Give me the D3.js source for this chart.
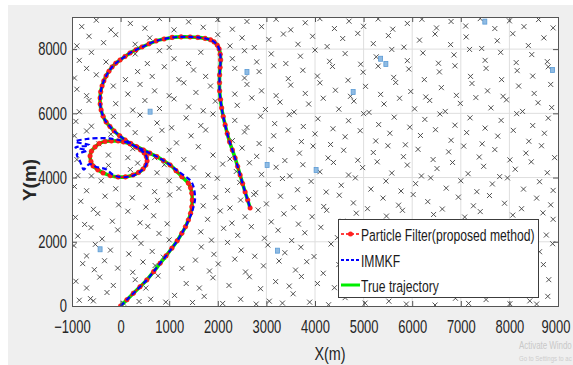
<!DOCTYPE html>
<html>
<head>
<meta charset="utf-8">
<script src="https://cdn.jsdelivr.net/npm/d3@7"></script>
<style>
  body { margin: 0; background: #fff; }
  text { font-family: "Liberation Sans", Arial, sans-serif; }
</style>
</head>
<body>
<svg id="chart" width="573" height="365"></svg>
<script>
const xTicks = [-1000, 0, 1000, 2000, 3000, 4000, 5000, 6000, 7000, 8000, 9000]
const yTicks = [0, 2000, 4000, 6000, 8000]
const legendLabels = ['Particle Filter(proposed method)', 'IMMKF', 'True trajectory']

// true target trajectory (m)
const trueTrajectory = [
  [0, 0], [130, 195], [263, 396], [400, 600], [539, 810], [680, 1070], [813, 1330], [935, 1560],
  [1054, 1797], [1165, 2030], [1260, 2265], [1335, 2470], [1395, 2679], [1440, 2885], [1465, 3093],
  [1475, 3300], [1465, 3511], [1440, 3680], [1395, 3822], [1260, 4028], [1140, 4215], [1019, 4392],
  [880, 4530], [745, 4651], [600, 4760], [469, 4859], [330, 4960], [196, 5046], [60, 5110], [-51, 5140],
  [-190, 5140], [-319, 5124], [-440, 5060], [-525, 4953], [-600, 4820], [-628, 4673], [-610, 4500],
  [-566, 4361], [-470, 4240], [-360, 4143], [-210, 4060], [-51, 4018], [100, 4020], [257, 4081],
  [370, 4160], [463, 4268], [520, 4390], [545, 4517], [530, 4650], [484, 4766], [410, 4860], [319, 4953],
  [210, 5060], [93, 5171], [-20, 5300], [-134, 5451], [-220, 5590], [-298, 5732], [-360, 5910],
  [-401, 6105], [-420, 6290], [-422, 6479], [-410, 6670], [-381, 6853], [-345, 7010], [-298, 7165],
  [-240, 7310], [-175, 7445], [-100, 7560], [-10, 7663], [90, 7770], [195, 7881], [315, 7975],
  [442, 8068], [585, 8165], [731, 8255], [895, 8315], [1060, 8364], [1245, 8380], [1430, 8379],
  [1590, 8365], [1739, 8333], [1850, 8290], [1924, 8224], [1990, 8120], [2027, 8006], [2050, 7840],
  [2058, 7663], [2048, 7430], [2037, 7196], [2035, 6950], [2037, 6697], [2055, 6430], [2079, 6168],
  [2112, 5900], [2151, 5638], [2195, 5370], [2243, 5109], [2300, 4860], [2356, 4610], [2408, 4345],
  [2459, 4081], [2510, 3815], [2562, 3551], [2615, 3300], [2665, 3053]
]
// particle filter estimate sits on top of the truth
const pfEstimate = trueTrajectory
// IMMKF estimate, drifts around the small loop
const immkfEstimate = [
  [0, 0], [130, 195], [263, 396], [400, 600], [539, 810], [680, 1070], [813, 1330], [935, 1560],
  [1054, 1797], [1165, 2030], [1260, 2265], [1335, 2470], [1400, 2680], [1460, 2880], [1500, 3090],
  [1530, 3300], [1525, 3520], [1500, 3720], [1440, 3900], [1310, 4060], [1150, 4230], [1019, 4392],
  [880, 4530], [745, 4651], [600, 4760], [469, 4859], [330, 4950], [196, 5050], [40, 5140], [-150, 5200],
  [-400, 5230], [-700, 5200], [-930, 5120], [-640, 5010], [-930, 4940], [-700, 4840], [-900, 4720],
  [-850, 4560], [-800, 4380], [-760, 4250], [-640, 4420], [-500, 4330], [-300, 4260], [-150, 4080],
  [50, 4010], [257, 4060], [400, 4180], [500, 4330], [545, 4517], [530, 4650], [484, 4766], [410, 4860],
  [319, 4953], [210, 5060], [93, 5171], [-20, 5300], [-134, 5451], [-220, 5590], [-298, 5732],
  [-360, 5910], [-401, 6105], [-420, 6290], [-422, 6479], [-410, 6670], [-381, 6853], [-345, 7010],
  [-298, 7165], [-240, 7310], [-175, 7445], [-100, 7560], [-10, 7663], [90, 7770], [195, 7881],
  [315, 7975], [442, 8068], [585, 8165], [731, 8255], [895, 8315], [1060, 8364], [1245, 8380],
  [1430, 8379], [1590, 8365], [1739, 8333], [1850, 8290], [1924, 8224], [1990, 8120], [2027, 8006],
  [2050, 7840], [2058, 7663], [2048, 7430], [2037, 7196], [2035, 6950], [2037, 6697], [2055, 6430],
  [2079, 6168], [2112, 5900], [2151, 5638], [2195, 5370], [2243, 5109], [2300, 4860], [2356, 4610],
  [2408, 4345], [2459, 4081], [2510, 3815], [2562, 3551], [2615, 3300], [2665, 3053]
]
// sensor nodes (x markers)
const sensorNodes = [
  [-850, 180], [-620, 230], [-560, 160], [-280, 420], [60, 90], [380, 140], [620, 210], [930, 120], [1110, 330], [1480, 110], [1720, 300], [2100, 80], [2470, 210], [2790, 60], [3060, 150], [3330, 90], [3550, 380], [3890, 120], [4280, 40], [4620, 260], [5030, 90], [5520, 150], [5880, 60], [6470, 30], [6890, 240], [7160, 80], [7520, 200], [8010, 70], [8420, 160], [8560, 60], [8790, 300],
  [-920, 770], [-700, 560], [-430, 900], [-150, 640], [300, 820], [520, 560], [770, 940], [1350, 700], [1620, 560], [1900, 880], [2230, 640], [2650, 910], [2880, 540], [3190, 760], [3470, 620], [3720, 920], [4050, 700], [4400, 570], [4760, 830], [5140, 610], [5390, 960], [5760, 740], [6100, 590], [6350, 880], [6720, 650], [7080, 960], [7430, 720], [7700, 540], [8140, 880], [8460, 610], [8810, 820],
  [-780, 1320], [-540, 1130], [-330, 1410], [-60, 1180], [250, 1050], [460, 1370], [710, 1260], [1260, 1170], [1540, 1430], [1830, 1090], [2010, 1310], [2350, 1460], [2570, 1060], [2940, 1250], [3260, 1400], [3600, 1120], [3830, 1380], [4170, 1020], [4490, 1290], [4880, 1470], [5210, 1150], [5630, 1340], [5990, 1060], [6260, 1420], [6590, 1210], [6940, 1040], [7330, 1380], [7640, 1160], [8030, 1440], [8340, 1080], [8700, 1290],
  [-960, 1880], [-700, 1560], [-520, 1920], [-210, 1740], [170, 1620], [420, 1950], [650, 1700], [880, 1520], [1660, 1840], [1920, 1610], [2200, 1980], [2480, 1740], [2760, 1550], [3030, 1900], [3380, 1660], [3710, 1830], [3980, 1540], [4330, 1930], [4650, 1690], [4970, 1580], [5290, 1870], [5580, 1620], [5900, 1980], [6210, 1710], [6540, 1560], [6830, 1890], [7190, 1650], [7540, 1960], [7860, 1580], [8230, 1820], [8620, 1690], [8890, 1940],
  [-880, 2180], [-610, 2440], [-380, 2090], [-60, 2370], [300, 2150], [560, 2480], [790, 2260], [1000, 2060], [1650, 2310], [1870, 2050], [2120, 2420], [2410, 2200], [2690, 2470], [2960, 2110], [3240, 2360], [3520, 2040], [3790, 2280], [4120, 2450], [4460, 2130], [4720, 2390], [5060, 2210], [5380, 2480], [5690, 2090], [6030, 2340], [6380, 2160], [6660, 2450], [6990, 2040], [7290, 2300], [7650, 2480], [7980, 2120], [8330, 2370], [8760, 2210],
  [-930, 2760], [-740, 2540], [-470, 2880], [-170, 2640], [150, 2950], [400, 2590], [680, 2810], [960, 2560], [1790, 2700], [2050, 2960], [2290, 2580], [2560, 2780], [2830, 2990], [3100, 2620], [3360, 2870], [3660, 2550], [3940, 2780], [4240, 2980], [4570, 2640], [4850, 2890], [5170, 2560], [5470, 2800], [5800, 2980], [6110, 2620], [6440, 2850], [6760, 2530], [7080, 2770], [7400, 2940], [7720, 2600], [8070, 2830], [8390, 2560], [8690, 2900], [8900, 2700],
  [-820, 3260], [-560, 3010], [-320, 3420], [-40, 3150], [240, 3370], [520, 3080], [760, 3290], [1010, 3460], [1700, 3120], [1960, 3380], [2250, 3050], [2470, 3300], [2740, 3470], [3000, 3180], [3290, 3420], [3560, 3060], [3870, 3320], [4180, 3100], [4500, 3450], [4790, 3210], [5080, 3030], [5400, 3360], [5720, 3140], [6020, 3470], [6320, 3250], [6620, 3020], [6950, 3390], [7260, 3120], [7590, 3440], [7900, 3200], [8250, 3030], [8560, 3360], [8850, 3150],
  [-950, 3720], [-700, 3590], [-400, 3900], [-100, 3650], [380, 3780], [700, 3560], [1000, 3900], [1200, 3660], [1700, 3720], [1990, 3980], [2200, 3600], [2450, 3850], [2780, 3530], [3040, 3790], [3330, 3970], [3640, 3620], [3920, 3880], [4230, 3550], [4540, 3760], [4830, 3990], [5150, 3640], [5460, 3890], [5770, 3580], [6070, 3810], [6380, 3990], [6700, 3670], [7000, 3900], [7330, 3560], [7650, 3800], [7960, 3990], [8290, 3640], [8620, 3870], [8900, 3600],
  [-880, 4060], [-600, 4050], [-250, 4380], [200, 4250], [350, 4450], [750, 4150], [900, 4400], [1500, 4300], [1800, 4080], [2100, 4420], [2380, 4190], [2650, 4460], [2900, 4100], [3200, 4320], [3480, 4050], [3750, 4400], [4100, 4180], [4380, 4470], [4690, 4080], [4980, 4310], [5280, 4490], [5580, 4140], [5900, 4390], [6190, 4050], [6510, 4280], [6830, 4470], [7150, 4120], [7470, 4350], [7800, 4030], [8120, 4260], [8450, 4490], [8780, 4150],
  [-900, 4560], [-250, 4700], [150, 4620], [250, 4900], [700, 4620], [1000, 4850], [1300, 4560], [1600, 4960], [1900, 4700], [2250, 4580], [2500, 4920], [2800, 4660], [3100, 4870], [3380, 4530], [3680, 4760], [3960, 4980], [4270, 4610], [4590, 4850], [4880, 4540], [5200, 4780], [5500, 4990], [5820, 4650], [6120, 4880], [6430, 4560], [6750, 4800], [7060, 4980], [7380, 4640], [7700, 4870], [8010, 4550], [8340, 4760], [8660, 4990], [8930, 4620],
  [-950, 5300], [-700, 5450], [-450, 5050], [-200, 5350], [300, 5400], [600, 5200], [850, 5470], [1150, 5080], [1450, 5300], [1750, 5480], [2300, 5150], [2550, 5420], [2850, 5060], [3150, 5300], [3450, 5480], [3720, 5120], [4000, 5360], [4320, 5030], [4620, 5270], [4930, 5460], [5250, 5140], [5540, 5380], [5860, 5020], [6170, 5310], [6480, 5490], [6800, 5160], [7120, 5400], [7440, 5050], [7760, 5290], [8080, 5470], [8400, 5130], [8720, 5380],
  [-920, 5750], [-600, 5600], [-150, 5900], [150, 5650], [400, 5950], [750, 5700], [1050, 5550], [1350, 5860], [1650, 5620], [1900, 5980], [2350, 5780], [2600, 5560], [2880, 5910], [3170, 5680], [3470, 5960], [3760, 5590], [4060, 5830], [4370, 5520], [4690, 5770], [5000, 5990], [5310, 5650], [5630, 5880], [5950, 5570], [6260, 5810], [6570, 5980], [6880, 5630], [7190, 5860], [7500, 5540], [7830, 5780], [8150, 5990], [8480, 5620], [8800, 5850],
  [-850, 6050], [-650, 6400], [-100, 6300], [250, 6100], [500, 6400], [800, 6150], [1100, 6450], [1400, 6200], [1700, 6080], [1950, 6380], [2400, 6250], [2700, 6480], [2980, 6120], [3280, 6350], [3570, 6040], [3870, 6290], [4170, 6470], [4490, 6130], [4800, 6380], [5110, 6030], [5420, 6290], [5740, 6470], [6050, 6140], [6360, 6400], [6680, 6060], [6990, 6310], [7310, 6490], [7620, 6170], [7940, 6420], [8270, 6060], [8590, 6330], [8870, 6180],
  [-900, 6750], [-700, 6550], [-150, 6850], [150, 6600], [400, 6900], [700, 6700], [1000, 6550], [1300, 6950], [1550, 6650], [1850, 6850], [2350, 6600], [2600, 6900], [2900, 6700], [3200, 6550], [3500, 6880], [3800, 6620], [4100, 6950], [4420, 6720], [4730, 6530], [5040, 6840], [5350, 6590], [5660, 6960], [5970, 6680], [6280, 6510], [6600, 6800], [6910, 6560], [7230, 6930], [7550, 6700], [7870, 6530], [8190, 6850], [8510, 6620], [8850, 6900],
  [-950, 7100], [-700, 7400], [-500, 7200], [100, 7050], [350, 7300], [650, 7150], [900, 7450], [1200, 7050], [1500, 7350], [1750, 7150], [2350, 7400], [2550, 7100], [2850, 7300], [3150, 7480], [3450, 7080], [3750, 7340], [4050, 7160], [4360, 7460], [4680, 7030], [4990, 7280], [5300, 7470], [5620, 7120], [5930, 7380], [6250, 7050], [6560, 7290], [6880, 7480], [7200, 7150], [7520, 7400], [7840, 7050], [8160, 7330], [8480, 7160], [8800, 7450],
  [-850, 7650], [-600, 7900], [-300, 7600], [300, 7850], [550, 7550], [800, 7950], [1100, 7700], [1400, 7550], [1650, 7900], [2300, 7700], [2550, 7950], [2800, 7600], [3100, 7850], [3400, 7550], [3700, 7780], [4000, 7970], [4300, 7620], [4620, 7860], [4940, 7530], [5260, 7760], [5580, 7990], [5900, 7640], [6220, 7880], [6540, 7560], [6860, 7820], [7180, 7990], [7500, 7650], [7820, 7900], [8140, 7580], [8460, 7830], [8780, 7610],
  [-900, 8100], [-650, 8400], [-350, 8200], [-100, 8450], [300, 8150], [600, 8350], [1000, 8050], [2000, 8450], [2250, 8100], [2500, 8350], [2750, 8050], [3050, 8300], [3350, 8470], [3650, 8150], [3950, 8400], [4250, 8080], [4570, 8330], [4880, 8490], [5200, 8170], [5510, 8420], [5830, 8060], [6150, 8280], [6470, 8470], [6790, 8140], [7110, 8380], [7430, 8020], [7750, 8260], [8070, 8480], [8390, 8110], [8710, 8350],
  [-800, 8700], [-500, 8900], [-200, 8600], [200, 8800], [500, 8650], [800, 8950], [1100, 8600], [1400, 8850], [1700, 8680], [2000, 8920], [2300, 8620], [2600, 8860], [2900, 8700], [3200, 8930], [3500, 8600], [3800, 8820], [4100, 8950], [4400, 8640], [4700, 8870], [5000, 8710], [5300, 8940], [5600, 8620], [5900, 8800], [6200, 8930], [6500, 8660], [6800, 8860], [7100, 8720], [7400, 8950], [7700, 8640], [8000, 8880], [8300, 8700], [8600, 8920], [8900, 8660]
]
// anchor nodes (light blue squares)
const anchorNodes = [
  [607, 6052], [2600, 7290], [7494, 8856], [5458, 7538], [8887, 7351], [-422, 1766],
  [3227, 1723], [3015, 4392], [4023, 4236], [4785, 6666], [5350, 7700]
]

const svg = d3.select('#chart')
const plotLeft = 72, plotRight = 558, plotTop = 17, plotBottom = 306

const x = d3.scaleLinear().domain([-1000, 9000]).range([plotLeft, plotRight])
const y = d3.scaleLinear().domain([0, 9000]).range([plotBottom, plotTop])

// squeeze text horizontally like the original (stretched) figure
function squeeze(sel, k) {
  sel.each(function () {
    const ax = +(this.getAttribute('x') || 0)
    const old = this.getAttribute('transform') || ''
    d3.select(this).attr('transform', `${old} translate(${ax},0) scale(${k},1) translate(${-ax},0)`)
  })
}

// figure background
svg.append('rect').attr('x', 8).attr('y', 5).attr('width', 565).attr('height', 360).attr('fill', '#efefef')
svg.append('rect').attr('x', plotLeft).attr('y', plotTop)
  .attr('width', plotRight - plotLeft).attr('height', plotBottom - plotTop).attr('fill', 'white')

// grid
const grid = svg.append('g').attr('class', 'grid')
grid.selectAll('.gx').data(xTicks.slice(1, -1)).enter()
  .append('line')
  .attr('x1', (d) => x(d)).attr('x2', (d) => x(d))
  .attr('y1', plotTop).attr('y2', plotBottom)
  .attr('stroke', '#dedede').attr('stroke-width', 1)
grid.selectAll('.gy').data(yTicks.slice(1)).enter()
  .append('line')
  .attr('x1', plotLeft).attr('x2', plotRight)
  .attr('y1', (d) => y(d)).attr('y2', (d) => y(d))
  .attr('stroke', '#dedede').attr('stroke-width', 1)

svg.append('clipPath').attr('id', 'plot-clip')
  .append('rect').attr('x', plotLeft).attr('y', plotTop)
  .attr('width', plotRight - plotLeft).attr('height', plotBottom - plotTop)
const plot = svg.append('g').attr('clip-path', 'url(#plot-clip)')

// sensor nodes
const s = 2.5
plot.append('g').attr('class', 'sensors')
  .selectAll('path')
  .data(sensorNodes).enter()
  .append('path')
  .attr('d', (d) => {
    const cx = x(d[0]), cy = y(d[1])
    return `M${cx - s},${cy - s}L${cx + s},${cy + s}M${cx - s},${cy + s}L${cx + s},${cy - s}`
  })
  .attr('stroke', '#404040')
  .attr('stroke-width', 0.9)
  .attr('fill', 'none')

plot.append('g').attr('class', 'anchors')
  .selectAll('rect')
  .data(anchorNodes).enter()
  .append('rect')
  .attr('x', (d) => x(d[0]) - 2)
  .attr('y', (d) => y(d[1]) - 2.5)
  .attr('width', 4).attr('height', 5)
  .attr('fill', '#8fbbe3').attr('stroke', '#5b9bd5').attr('stroke-width', 0.8)

// trajectories
const line = d3.line().x((d) => x(d[0])).y((d) => y(d[1])).curve(d3.curveCatmullRom)

plot.append('path')
  .attr('d', line(trueTrajectory))
  .attr('fill', 'none').attr('stroke', '#00ee00').attr('stroke-width', 3.6)

plot.append('path')
  .attr('d', line(pfEstimate))
  .attr('fill', 'none').attr('stroke', '#ff0000').attr('stroke-width', 1.5)
  .attr('stroke-dasharray', '4,3')
plot.append('g').attr('class', 'pf-markers')
  .selectAll('circle')
  .data(pfEstimate).enter()
  .append('circle')
  .attr('cx', (d) => x(d[0])).attr('cy', (d) => y(d[1]))
  .attr('r', 2.3)
  .attr('fill', '#ff2020').attr('stroke', '#ff0000').attr('stroke-width', 0.5)

plot.append('path')
  .attr('d', line(immkfEstimate))
  .attr('fill', 'none').attr('stroke', '#0000ff').attr('stroke-width', 2.2)
  .attr('stroke-dasharray', '5,3')

// axes box with inward ticks
const axisColor = '#555'
svg.append('g').attr('transform', `translate(0,${plotBottom})`)
  .call(d3.axisBottom(x).tickValues(xTicks).tickSize(-5).tickPadding(14).tickFormat(d3.format('d')))
svg.append('g').attr('transform', `translate(${plotLeft},0)`)
  .call(d3.axisLeft(y).tickValues(yTicks).tickSize(-5).tickPadding(5).tickFormat(d3.format('d')))
svg.append('g').attr('transform', `translate(0,${plotTop})`)
  .call(d3.axisTop(x).tickValues(xTicks).tickSize(-5).tickFormat(''))
svg.append('g').attr('transform', `translate(${plotRight},0)`)
  .call(d3.axisRight(y).tickValues(yTicks).tickSize(-5).tickFormat(''))

svg.selectAll('.domain').attr('stroke', axisColor)
svg.selectAll('.tick line').attr('stroke', axisColor)
// last x label sits flush with the figure edge
svg.selectAll('.tick text').filter((d) => d === 9000).attr('x', -2.5)
svg.selectAll('.tick text')
  .attr('fill', '#262626')
  .style('font-size', '18px')
  .style('font-family', '"Liberation Sans", Arial, sans-serif')
  .call(squeeze, 0.72)

// axis labels
svg.append('text')
  .attr('x', 330).attr('y', 360)
  .attr('text-anchor', 'middle')
  .attr('fill', '#262626')
  .style('font-size', '18px')
  .text('X(m)')
  .call(squeeze, 0.8)
svg.append('text')
  .attr('transform', 'translate(36,180) rotate(-90)')
  .attr('text-anchor', 'middle')
  .attr('fill', '#262626')
  .style('font-size', '19px')
  .style('font-weight', 'bold')
  .text('Y(m)')

// legend
const legend = svg.append('g').attr('class', 'legend')
legend.append('rect')
  .attr('x', 338.5).attr('y', 219.5).attr('width', 200).attr('height', 78)
  .attr('fill', 'white').attr('stroke', '#3c3c3c').attr('stroke-width', 1)
const legendY = [234, 260, 285]
legendLabels.forEach((label, i) => {
  const g = legend.append('g')
  if (i === 0) {
    g.append('line').attr('x1', 341).attr('x2', 360).attr('y1', legendY[i]).attr('y2', legendY[i])
      .attr('stroke', '#ff0000').attr('stroke-width', 1.5).attr('stroke-dasharray', '3,2')
    g.append('circle').attr('cx', 350.5).attr('cy', legendY[i]).attr('r', 2.5).attr('fill', '#ff2020')
  } else if (i === 1) {
    g.append('line').attr('x1', 341).attr('x2', 360).attr('y1', legendY[i]).attr('y2', legendY[i])
      .attr('stroke', '#0000ff').attr('stroke-width', 1.8).attr('stroke-dasharray', '3,2')
  } else {
    g.append('line').attr('x1', 341).attr('x2', 360).attr('y1', legendY[i]).attr('y2', legendY[i])
      .attr('stroke', '#00ee00').attr('stroke-width', 3)
  }
  g.append('text')
    .attr('x', 361).attr('y', legendY[i] + 7)
    .attr('fill', '#1a1a1a')
    .style('font-size', '17px')
    .text(label)
    .call(squeeze, 0.715)
})

// faint OS watermark in the screenshot (cut by the screen edge)
svg.append('text').attr('x', 519).attr('y', 349).attr('fill', '#c8c8c8')
  .style('font-size', '11px').text('Activate Windo')
  .call(squeeze, 0.72)
svg.append('text').attr('x', 519).attr('y', 361).attr('fill', '#cdcdcd')
  .style('font-size', '8px').text('Go to Settings to ac')
  .call(squeeze, 0.75)
</script>
</body>
</html>
